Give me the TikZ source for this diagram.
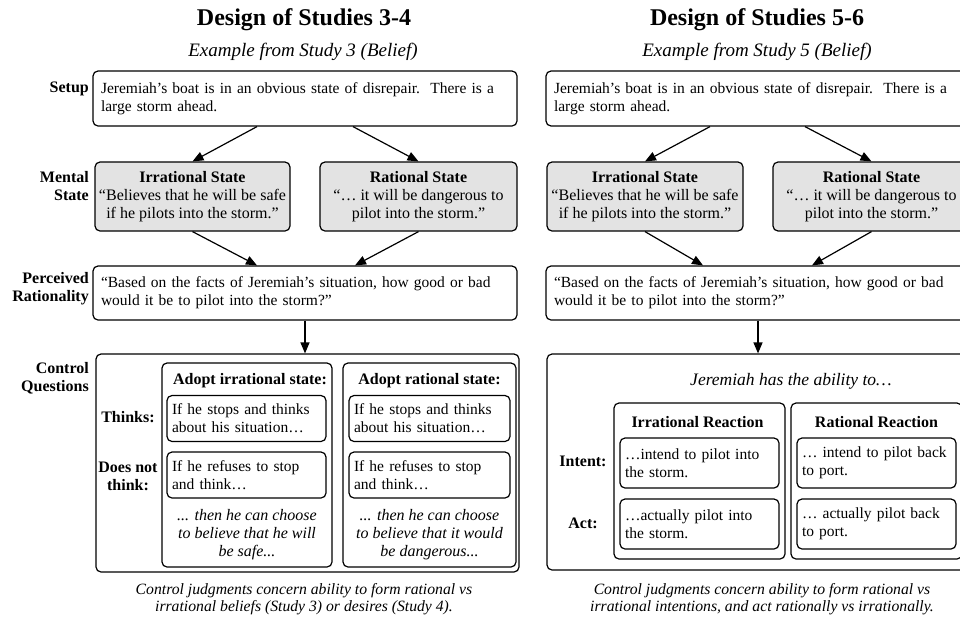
\documentclass[tikz,border=0pt]{standalone}
\usepackage{fontspec}
\setmainfont{Liberation Serif}
\usetikzlibrary{arrows.meta, positioning, calc}

\begin{document}
\begin{tikzpicture}[x=1pt, y=-1pt,
    txt/.style={font=\fontsize{15.5}{18}\selectfont, inner sep=0pt},
    box/.style={txt, draw, line width=1.2pt, rounded corners=5pt, inner xsep=8pt, text width=#1-16pt, align=left},
    statebox/.style={txt, font=\fontsize{16}{18}\selectfont, draw, line width=1.2pt, rounded corners=5pt, fill=gray!22, minimum width=#1, minimum height=69pt, align=center},
    frame/.style={draw, line width=1.2pt, rounded corners=5pt, inner sep=0pt},
    qbox/.style={txt, draw, line width=1.2pt, rounded corners=5pt, inner xsep=5pt, text width=149pt, align=left},
    rowlabel/.style={txt, font=\fontsize{16}{18}\selectfont\bfseries, align=right, anchor=east},
    head/.style={txt, font=\fontsize{16}{18}\selectfont\bfseries},
    title/.style={font=\fontsize{24}{26}\selectfont\bfseries},
    subtitle/.style={font=\fontsize{19}{21}\selectfont\itshape},
    note/.style={txt, font=\fontsize{16}{18}\selectfont\itshape, align=center},
    caption/.style={txt, font=\fontsize{15.7}{17}\selectfont\itshape, align=center},
    arrow/.style={-{Triangle[length=11pt, width=9pt]}, line width=1.2pt}
]
    \useasboundingbox (0,0) rectangle (960,619);

    % Titles
    \node[title] (titleL) at (304,20) {Design of Studies 3-4};
    \node[subtitle] (subL) at (303,52) {Example from Study 3 (Belief)};
    \node[title] (titleR) at (757,20) {Design of Studies 5-6};
    \node[subtitle] (subR) at (757,52) {Example from Study 5 (Belief)};

    % Row labels
    \node[rowlabel] (lblSetup) at (89,89) {Setup};
    \node[rowlabel] (lblMental) at (89,186) {Mental\\State};
    \node[rowlabel] (lblPerc) at (89,289) {Perceived\\Rationality};
    \node[rowlabel] (lblCtrl) at (89,378) {Control\\Questions};

    % ---- Studies 3-4 ----
    \node[box=424pt, minimum height=55pt] (setupL) at (305,98.5)
        {Jeremiah’s boat is in an obvious state of disrepair.\ \ There is a large storm ahead.};
    \node[statebox=195pt] (irrL) at (192.5,196.5)
        {\textbf{Irrational State}\\“Believes that he will be safe\\if he pilots into the storm.”};
    \node[statebox=197pt] (ratL) at (418.5,196.5)
        {\textbf{Rational State}\\“… it will be dangerous to\\pilot into the storm.”};
    \node[box=424pt, minimum height=54pt] (percL) at (305,293)
        {“Based on the facts of Jeremiah’s situation, how good or bad would it be to pilot into the storm?”};

    \draw[arrow] ([xshift=-48pt]setupL.south) -- (irrL.north);
    \draw[arrow] ([xshift=48pt]setupL.south) -- (ratL.north);
    \draw[arrow] (irrL.south) -- ([xshift=-48pt]percL.north);
    \draw[arrow] (ratL.south) -- ([xshift=50pt]percL.north);

    \node[frame, minimum width=423pt, minimum height=218pt] (ctrlL) at (307.5,463) {};
    \draw[arrow] (percL.south) -- (percL.south |- ctrlL.north);

    \node[frame, minimum width=170pt, minimum height=204pt] (colIrrL) at (247,465) {};
    \node[frame, minimum width=173pt, minimum height=204pt] (colRatL) at (429.5,465) {};
    \node[head] (headIrrL) at (250,381) {Adopt irrational state:};
    \node[head] (headRatL) at (429.5,381) {Adopt rational state:};

    \node[qbox, minimum height=46pt] (thinkIrrL) at (246.5,418.5) {If he stops and thinks about his situation…};
    \node[qbox, minimum height=46pt] (notIrrL) at (246.5,475) {If he refuses to stop and think…};
    \node[qbox, text width=151pt, minimum height=46pt] (thinkRatL) at (429.5,418.5) {If he stops and thinks about his situation…};
    \node[qbox, text width=151pt, minimum height=46pt] (notRatL) at (429.5,475) {If he refuses to stop and think…};

    \node[note] (chooseIrrL) at (247,535)
        {... then he can choose\\to believe that he will\\be safe...};
    \node[note] (chooseRatL) at (429.5,535)
        {... then he can choose\\to believe that it would\\be dangerous...};

    \node[rowlabel, anchor=center, align=center] (lblThinks) at (128,417) {Thinks:};
    \node[rowlabel, anchor=center, align=center] (lblNot) at (128,476) {Does not\\think:};

    \node[caption] (capL) at (304,599)
        {Control judgments concern ability to form rational vs\\irrational beliefs (Study 3) or desires (Study 4).};

    % ---- Studies 5-6 ----
    \node[box=424pt, minimum height=55pt] (setupR) at (758,98.5)
        {Jeremiah’s boat is in an obvious state of disrepair.\ \ There is a large storm ahead.};
    \node[statebox=196pt] (irrR) at (645,196.5)
        {\textbf{Irrational State}\\“Believes that he will be safe\\if he pilots into the storm.”};
    \node[statebox=197pt] (ratR) at (871.5,196.5)
        {\textbf{Rational State}\\“… it will be dangerous to\\pilot into the storm.”};
    \node[box=424pt, minimum height=54pt] (percR) at (758,293)
        {“Based on the facts of Jeremiah’s situation, how good or bad would it be to pilot into the storm?”};

    \draw[arrow] ([xshift=-48pt]setupR.south) -- (irrR.north);
    \draw[arrow] ([xshift=47pt]setupR.south) -- (ratR.north);
    \draw[arrow] (irrR.south) -- ([xshift=-55pt]percR.north);
    \draw[arrow] (ratR.south) -- ([xshift=54pt]percR.north);

    \node[frame, minimum width=423pt, minimum height=216pt] (ctrlR) at (758.5,462) {};
    \draw[arrow] (percR.south) -- (percR.south |- ctrlR.north);

    \node[txt, font=\fontsize{17.5}{18}\selectfont\itshape] (ability) at (791,381) {Jeremiah has the ability to…};

    \node[frame, minimum width=171pt, minimum height=156pt] (colIrrR) at (699.5,481) {};
    \node[frame, minimum width=171pt, minimum height=156pt] (colRatR) at (876.5,481) {};
    \node[head] (headIrrR) at (697.5,422) {Irrational Reaction};
    \node[head] (headRatR) at (876.5,422) {Rational Reaction};

    \node[qbox, minimum height=50pt] (intentIrrR) at (699.5,463) {…intend to pilot into the storm.};
    \node[qbox, minimum height=50pt] (actIrrR) at (699.5,524) {…actually pilot into the storm.};
    \node[qbox, minimum height=50pt] (intentRatR) at (876.5,463) {… intend to pilot back to port.};
    \node[qbox, minimum height=50pt] (actRatR) at (876.5,524) {… actually pilot back to port.};

    \node[rowlabel, anchor=center] (lblIntent) at (583,461) {Intent:};
    \node[rowlabel, anchor=center] (lblAct) at (583,523) {Act:};

    \node[caption] (capR) at (762,599)
        {Control judgments concern ability to form rational vs\\irrational intentions, and act rationally vs irrationally.};
\end{tikzpicture}
\end{document}
